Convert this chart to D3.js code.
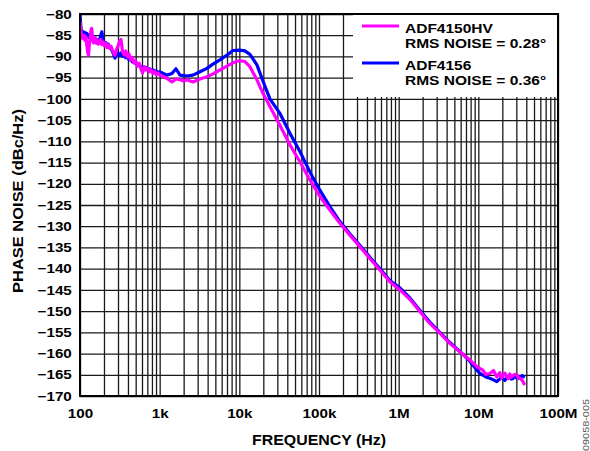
<!DOCTYPE html>
<html>
<head>
<meta charset="utf-8">
<script src="https://cdn.jsdelivr.net/npm/d3@7"></script>
<style>
  body { margin: 0; background: #fff; }
  text { font-family: "Liberation Sans", Arial, sans-serif; font-weight: bold; fill: #000; }
</style>
</head>
<body>
<div id="chart"></div>
<script>
// offset frequency (Hz), shared by both traces
var freq = [100, 102, 104, 106, 108, 110, 113, 116, 119, 122, 125, 128, 131, 134, 137, 140, 144, 148, 152, 156,
  160, 165, 170, 176, 182, 188, 195, 202, 210, 218, 226, 235, 245, 255, 265, 275, 287, 300, 313, 327,
  342, 358, 375, 393, 412, 432, 453, 475, 500, 525, 552, 580, 610, 640, 672, 706, 742, 780, 820, 862,
  906, 952, 1000,
  1236, 1427, 1600, 1798, 2000, 2203, 2620, 3206, 3920, 4665, 5710, 6985, 8318,
  10000, 11750, 13580, 16630, 19780, 24200, 32280, 43150, 57560, 76900, 102600, 137000, 183000, 244000, 326000,
  435000, 581000, 776000, 1036000, 1383000, 1846000, 2463000, 3288000, 4388000, 5858000, 7818000,
  9570000, 10400000, 11380000, 12400000, 13930000, 15500000, 17050000, 18620000, 19500000, 20300000, 21500000,
  22800000, 24000000, 24840000, 26000000, 27100000, 28800000, 30420000, 32000000, 33200000, 35500000, 38300000];

// ADF4150HV (magenta)
var noiseHV = [-81.8, -83.5, -84.6, -85.2, -85.8, -85.7, -85.0, -86.3, -85.4, -87.5, -89.0, -89.7, -87.2, -85.8,
  -84.0, -83.4, -85.5, -86.8, -86.1, -85.6, -86.9, -86.3, -87.1, -86.4, -86.0, -87.2, -86.6, -87.5, -86.8, -87.9,
  -87.3, -88.1, -87.6, -88.5, -89.2, -89.7, -88.4, -87.6, -86.5, -86.0, -88.9, -89.6, -88.7, -90.1, -89.4, -90.8,
  -90.2, -91.5, -91.0, -92.3, -91.6, -92.8, -93.9, -92.4, -93.2, -92.7, -93.6, -93.1, -94.0, -93.5, -94.3, -93.9,
  -94.4,
  -95.2, -96.0, -95.3, -95.5, -95.8, -95.5, -96.0, -95.3, -94.8, -94.1, -93.2, -92.3, -91.5, -91.0, -91.2, -92.4,
  -95.5, -98.7, -101.8, -106.2, -110.8, -114.8, -119.1, -123.0, -126.2, -129.3, -132.1, -134.8, -137.6, -140.3,
  -143.1, -145.0, -147.2, -150.1, -152.9, -155.2, -157.6, -159.6, -161.5,
  -163.1, -163.5, -163.9, -164.9, -164.7, -164.0, -165.5, -164.5, -165.8, -165.3, -164.6, -165.5, -165.9, -164.8,
  -165.6, -165.2, -164.9, -165.0, -165.9, -165.8, -166.3, -167.4];

// ADF4156 (blue)
var noise4156 = [-80.0, -82.5, -84.2, -84.0, -84.6, -84.2, -84.8, -84.4, -85.0, -84.6, -85.3, -84.9, -85.6, -85.1,
  -85.8, -85.3, -86.2, -85.7, -86.4, -86.0, -86.6, -86.1, -86.8, -86.2, -85.0, -84.2, -86.3, -87.1, -86.7, -87.5,
  -87.1, -87.9, -88.2, -88.8, -89.6, -90.4, -89.5, -89.2, -89.8, -89.2, -90.0, -89.5, -90.3, -90.0, -90.8, -90.4,
  -91.3, -91.0, -91.7, -91.9, -92.1, -92.5, -92.4, -92.8, -92.6, -93.0, -92.9, -93.3, -93.1, -93.5, -93.4, -93.8,
  -93.6,
  -94.4, -94.0, -92.9, -94.4, -94.5, -94.6, -94.4, -93.6, -92.8, -91.8, -90.8, -89.7, -88.6, -88.5, -88.7, -89.5,
  -92.0, -95.8, -100.0, -103.4, -108.1, -112.4, -117.2, -121.5, -125.4, -128.9, -131.8, -134.5, -137.3, -140.0,
  -142.8, -144.5, -146.9, -149.8, -152.6, -155.0, -157.4, -159.5, -161.8,
  -163.9, -164.6, -165.1, -165.5, -165.8, -166.2, -166.6, -166.0, -165.4, -165.8, -166.3, -165.8, -165.3, -165.5,
  -166.0, -165.9, -165.4, -165.8, -165.5, -165.6, -165.2, -165.6];

var xTicks = [100, 1e3, 1e4, 1e5, 1e6, 1e7, 1e8];
var xTickLabels = ["100", "1k", "10k", "100k", "1M", "10M", "100M"];
var yTicks = d3.range(-170, -79, 5);

var legendNames = ["ADF4150HV", "ADF4156"];
var legendNotes = ["RMS NOISE = 0.28\u00b0", "RMS NOISE = 0.36\u00b0"];
var colors = ["#ff00ff", "#0000ff"];

(function() {
  var W = 590, H = 451;
  var pLeft = 80, pRight = 558, pTop = 14, pBottom = 396;
  var sx = 1.17; // labels in the original are drawn a bit wide

  var svg = d3.select("#chart").append("svg")
    .attr("width", W).attr("height", H);

  var x = d3.scaleLog().domain([100, 1e8]).range([pLeft, pRight]);
  var y = d3.scaleLinear().domain([-170, -80]).range([pBottom, pTop]);

  // minor + major log grid
  var gridX = [];
  for (var dec = 100; dec < 1e8; dec *= 10) {
    for (var m = 1; m <= 9; m++) gridX.push(dec * m);
  }
  gridX.push(1e8);

  svg.append("g")
    .attr("transform", "translate(0," + pBottom + ")")
    .call(d3.axisBottom(x).tickValues(gridX).tickSize(-(pBottom - pTop)).tickFormat(""))
    .call(function(g) { g.select(".domain").remove(); })
    .selectAll("line").attr("stroke", "#1a1a1a").attr("stroke-width", 1.3);

  svg.append("g")
    .attr("transform", "translate(" + pLeft + ",0)")
    .call(d3.axisLeft(y).tickValues(yTicks).tickSize(-(pRight - pLeft)).tickFormat(""))
    .call(function(g) { g.select(".domain").remove(); })
    .selectAll("line").attr("stroke", "#1a1a1a").attr("stroke-width", 1.3);

  // legend panel hides grid in the top right corner
  svg.append("rect")
    .attr("x", 353).attr("y", pTop)
    .attr("width", pRight - 353).attr("height", 97 - pTop)
    .attr("fill", "#fff");

  // traces
  svg.append("clipPath").attr("id", "plotclip")
    .append("rect").attr("x", pLeft).attr("y", pTop - 2)
    .attr("width", pRight - pLeft).attr("height", pBottom - pTop + 2);

  var line = d3.line()
    .x(function(d) { return x(d[0]); })
    .y(function(d) { return y(d[1]); });

  var series = [noise4156, noiseHV];
  var seriesColors = [colors[1], colors[0]];
  series.forEach(function(vals, i) {
    svg.append("path")
      .datum(freq.map(function(f, j) { return [f, vals[j]]; }))
      .attr("d", line)
      .attr("fill", "none")
      .attr("stroke", seriesColors[i])
      .attr("stroke-width", 3.2)
      .attr("stroke-linejoin", "round")
      .attr("clip-path", "url(#plotclip)");
  });

  // frame
  svg.append("rect")
    .attr("x", pLeft).attr("y", pTop)
    .attr("width", pRight - pLeft).attr("height", pBottom - pTop)
    .attr("fill", "none").attr("stroke", "#000").attr("stroke-width", 2);

  // tick labels
  var yAxis = svg.append("g")
    .attr("transform", "translate(" + pLeft + ",0)")
    .call(d3.axisLeft(y).tickValues(yTicks).tickSize(0).tickPadding(7)
      .tickFormat(function(d) { return "\u2212" + Math.abs(d); }));
  yAxis.select(".domain").remove();
  yAxis.attr("font-family", null).attr("font-size", null);
  yAxis.selectAll("text")
    .attr("font-size", 13)
    .attr("transform", "scale(" + sx + ",1)");

  var xAxis = svg.append("g")
    .attr("transform", "translate(0," + pBottom + ")")
    .call(d3.axisBottom(x).tickValues(xTicks).tickSize(0).tickPadding(12.8)
      .tickFormat(function(d, i) { return xTickLabels[i]; }));
  xAxis.select(".domain").remove();
  xAxis.attr("font-family", null).attr("font-size", null);
  xAxis.selectAll("text")
    .attr("font-size", 13)
    .attr("transform", "scale(" + sx + ",1)");

  // axis titles
  svg.append("text")
    .attr("x", 319).attr("y", 445)
    .attr("text-anchor", "middle")
    .attr("font-size", 14)
    .attr("textLength", 134).attr("lengthAdjust", "spacingAndGlyphs")
    .text("FREQUENCY (Hz)");

  svg.append("text")
    .attr("transform", "translate(22.5,201) rotate(-90)")
    .attr("text-anchor", "middle")
    .attr("font-size", 14)
    .attr("textLength", 184).attr("lengthAdjust", "spacingAndGlyphs")
    .text("PHASE NOISE (dBc/Hz)");

  // legend
  var legend = svg.append("g");
  legendNames.forEach(function(name, i) {
    var ly = 26 + i * 37;
    legend.append("line")
      .attr("x1", 362).attr("x2", 399)
      .attr("y1", ly).attr("y2", ly)
      .attr("stroke", colors[i]).attr("stroke-width", 3);
    legend.append("text")
      .attr("transform", "translate(405," + (ly + 7) + ") scale(1.15,1)")
      .attr("font-size", 13.5)
      .text(name);
    legend.append("text")
      .attr("transform", "translate(405," + (ly + 22) + ") scale(1.15,1)")
      .attr("font-size", 13.5)
      .text(legendNotes[i]);
  });

  // figure code
  svg.append("text")
    .attr("transform", "translate(589,425) rotate(-90)")
    .attr("text-anchor", "middle")
    .attr("font-size", 8.5)
    .style("font-weight", "normal")
    .style("fill", "#555")
    .attr("textLength", 52).attr("lengthAdjust", "spacingAndGlyphs")
    .text("09058-005");
})();
</script>
</body>
</html>
